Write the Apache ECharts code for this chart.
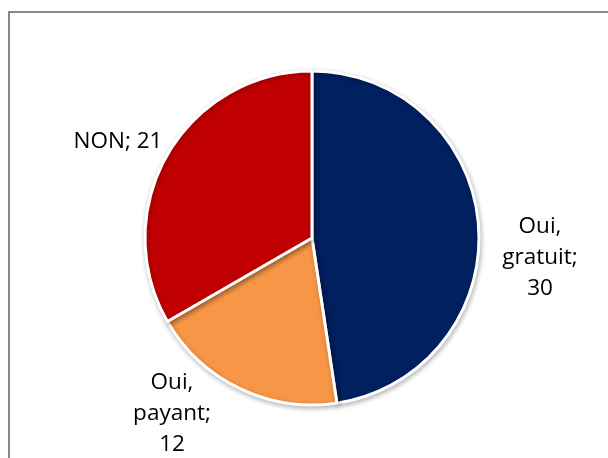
<!DOCTYPE html>
<html>
<head>
<meta charset="utf-8">
<script src="https://cdn.jsdelivr.net/npm/echarts@6/dist/echarts.min.js"></script>
<style>
  html, body { margin: 0; padding: 0; background: #fff; }
  #chart { width: 608px; height: 458px; }
</style>
</head>
<body>
<div id="chart"></div>
<script>
// données du camembert
var categories = ['Oui, gratuit', 'Oui, payant', 'NON'];
var values = [30, 12, 21];
var colors = ['#002060', '#F79646', '#C00000'];

// libellés affichés (retours à la ligne comme dans Excel)
var labelTexts = ['Oui,\ngratuit;\n30', 'Oui,\npayant;\n12', 'NON; 21'];
// centre des libellés
var labelPos = [[540, 258], [172, 414], [118, 142]];

var chart = echarts.init(document.getElementById('chart'));

var option = {
  backgroundColor: '#ffffff',
  animation: false,
  graphic: [{
    type: 'rect',
    shape: { x: 9, y: 12, width: 700, height: 600 },
    style: { fill: 'none', stroke: '#888888', lineWidth: 2 },
    silent: true
  }],
  series: [{
    type: 'pie',
    center: [312, 238],
    radius: [0, 167],
    startAngle: 90,
    clockwise: true,
    itemStyle: {
      borderColor: '#ffffff',
      borderWidth: 3,
      shadowBlur: 5,
      shadowOffsetX: 1,
      shadowOffsetY: 2,
      shadowColor: 'rgba(0,0,0,0.25)'
    },
    label: {
      show: true,
      position: 'outside',
      color: '#000000',
      fontFamily: 'Open Sans',
      fontSize: 22.5,
      lineHeight: 31,
      align: 'center',
      overflow: 'none',
      formatter: function (p) { return labelTexts[p.dataIndex]; }
    },
    labelLine: { show: false },
    labelLayout: function (p) {
      var pos = labelPos[p.dataIndex];
      return { x: pos[0], y: pos[1], align: 'center', verticalAlign: 'middle' };
    },
    data: categories.map(function (c, i) {
      return { name: c, value: values[i], itemStyle: { color: colors[i] } };
    })
  }]
};

chart.setOption(option);
</script>
</body>
</html>
